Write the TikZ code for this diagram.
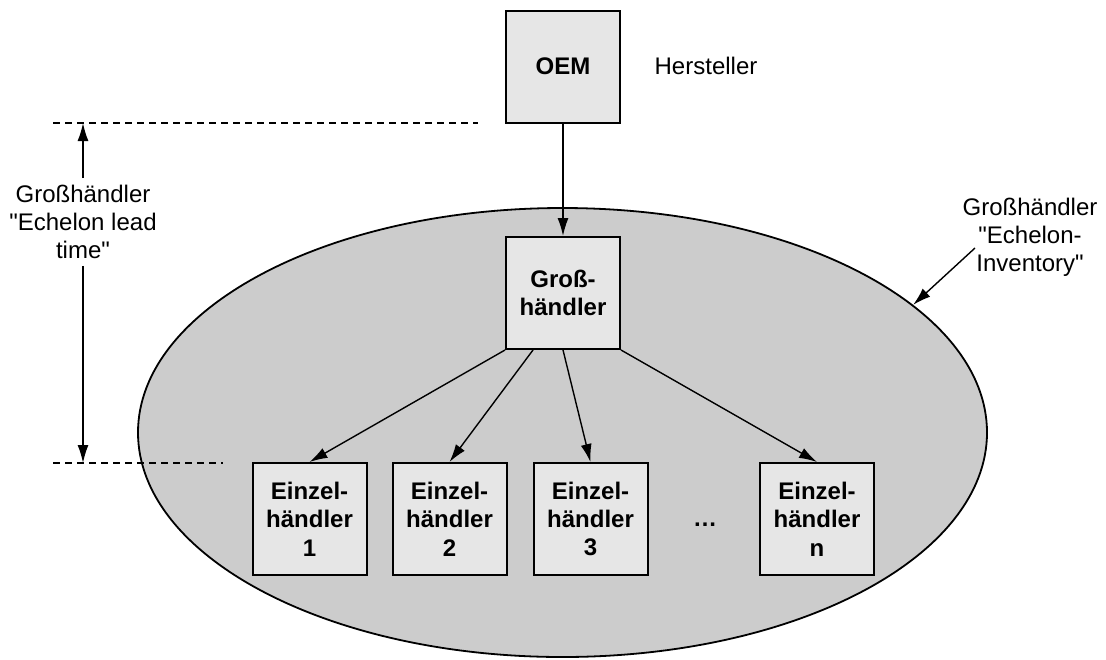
\documentclass[tikz,border=0pt]{standalone}
\usepackage{fontspec}
\setmainfont{Liberation Sans}
\usetikzlibrary{arrows.meta,shapes.geometric}

\definecolor{boxgray}{HTML}{E6E6E6}
\definecolor{zonegray}{HTML}{CCCCCC}

\tikzset{
	box/.style={draw, line width=1pt, fill=boxgray, minimum width=57pt,
		minimum height=56pt, align=center,
		font=\fontsize{12}{14.2}\selectfont\bfseries},
	lbl/.style={align=center, font=\fontsize{12}{14}\selectfont},
	arr/.style={-{Latex[length=9pt,width=5.5pt]}, line width=0.7pt},
}

\begin{document}
\begin{tikzpicture}[x=0.5pt, y=-0.5pt]
		\useasboundingbox (0,0) rectangle (1106,659);
		% Lagerstufe des Grosshaendlers
		\node (zone) at (562.5,432.5)
		[ellipse, draw, line width=0.9pt, fill=zonegray, inner sep=0pt,
		minimum width=424.5pt, minimum height=224.5pt] {};
		\node (oem) at (563,66.5) [box] {OEM};
		\node (gross) at (563,293) [box] {Groß-\\händler};
		\node (e1) at (309.5,519) [box] {Einzel-\\händler\\1};
		\node (e2) at (449.5,519) [box] {Einzel-\\händler\\2};
		\node (e3) at (590.5,519) [box] {Einzel-\\händler\\3};
		\node (en) at (817,519)   [box] {Einzel-\\händler\\n};
		\node (dots) at (705,525) [font=\fontsize{12}{14}\selectfont\bfseries] {…};
		\node (herst) at (706,66) [lbl] {Hersteller};
		\node (lead) at (83,222) [lbl]
		{Großhändler\\\textquotedbl Echelon lead\\time\textquotedbl};
		\node (inv) at (1030,237) [lbl]
		{Großhändler\\\textquotedbl Echelon-\\Inventory\textquotedbl};
		% Bezugslinien
		\coordinate (dta) at (53,123);
		\coordinate (dtb) at (478,123);
		\coordinate (dba) at (53,463);
		\coordinate (dbb) at (223,463);
		\coordinate (invtip) at (975,248);
		\draw[dashed, dash pattern=on 3.5pt off 2.5pt, line width=0.6pt] (dta) -- (dtb);
		\draw[dashed, dash pattern=on 3.5pt off 2.5pt, line width=0.6pt] (dba) -- (dbb);
		\draw[arr] (lead.north) -- (lead.north |- dta);
		\draw[arr] (lead.south) -- (lead.south |- dba);
		\draw[arr] (invtip) -- (zone.20);
		% Lieferbeziehungen
		\draw[arr] (oem) -- (gross);
		\draw[arr] (gross.south west) -- (e1.north);
		\draw[arr] ([xshift=-15pt]gross.south) -- (e2.north);
		\draw[arr] (gross.south) -- (e3.north);
		\draw[arr] (gross.south east) -- (en.north);
\end{tikzpicture}
\end{document}
